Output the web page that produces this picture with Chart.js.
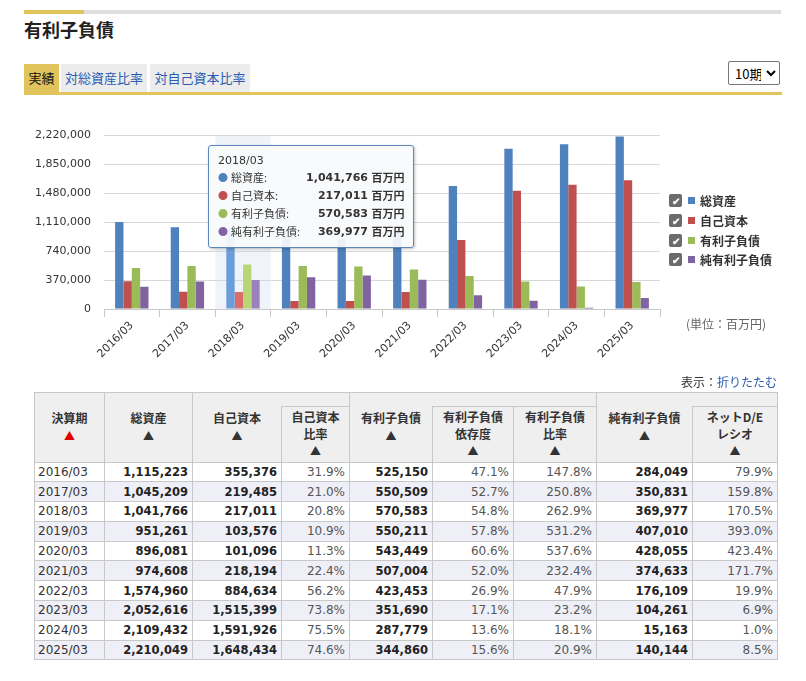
<!DOCTYPE html>
<html lang="ja">
<head>
<meta charset="utf-8">
<title>有利子負債</title>
<script src="https://cdn.jsdelivr.net/npm/chart.js@4.4.1/dist/chart.umd.min.js"></script>
<style>
    body { margin: 0; background: #fff; color: #333; font-family: "DejaVu Sans", "Noto Sans CJK JP", sans-serif; }
    #page { position: relative; width: 806px; height: 681px; overflow: hidden; }
    .topbar { position: absolute; left: 24px; top: 10px; width: 757px; height: 4px; background: #dedede; }
    .topbar span { position: absolute; left: 0; top: 0; width: 60px; height: 4px; background: #e2c45c; }
    h2 { position: absolute; left: 24px; top: 17px; margin: 0; font: bold 18px/24px "Noto Sans CJK JP", sans-serif; color: #222; }
    .tabs { position: absolute; left: 24px; top: 64px; height: 28px; }
    .tabs div { position: absolute; top: 0; height: 28px; line-height: 28px; font: 13px/28px "Noto Sans CJK JP", sans-serif; background: #ececec; color: #2a5cb3; text-align: center; }
    .tabs .on { background: #e2c45c; color: #111; }
    .tabline { position: absolute; left: 24px; top: 92px; width: 758px; height: 3px; background: #e2c45c; }
    select { position: absolute; left: 728px; top: 61px; width: 52px; height: 24px; font: 13px "Noto Sans CJK JP", sans-serif; border: 1px solid #767676; border-radius: 2px; background: #fff; padding: 0 2px; }
    #chartBox { position: absolute; left: 24px; top: 116px; width: 650px; height: 254px; }
    #legend { position: absolute; left: 669px; top: 191px; }
    #legend .item { height: 19.7px; display: flex; align-items: center; font: bold 12px "Noto Sans CJK JP", sans-serif; color: #333; }
    #legend .chk { width: 13px; height: 13px; background: #6b6b6b; border-radius: 2px; color: #fff; font-size: 10px; line-height: 13px; text-align: center; margin-right: 6px; }
    #legend .sq { width: 7px; height: 7px; margin-right: 5px; }
    .unit { position: absolute; left: 686px; top: 315px; font: 12px "Noto Sans CJK JP", sans-serif; color: #666; }
    #tip { position: absolute; display: none; background: rgba(249, 250, 252, 0.93); border: 1px solid #5b86bf; border-radius: 3px;
        box-shadow: 1px 1px 3px rgba(0, 0, 0, 0.25); padding: 6px 8px 6px 9px; font-size: 11px; color: #333; white-space: nowrap; }
    #tip .ttl { height: 17px; line-height: 17px; }
    #tip table { border-collapse: collapse; }
    #tip td { padding: 0; height: 17px; line-height: 17px; }
    #tip .lab { font-family: "Noto Sans CJK JP", sans-serif; padding-right: 6px; }
    #tip .val { font-weight: bold; text-align: right; }
    #tip .dot { font-size: 10px; margin-right: 3px; }
    .fold { position: absolute; left: 681px; top: 373px; font: 12px "Noto Sans CJK JP", sans-serif; color: #333; }
    .fold a { color: #2a5cb3; text-decoration: none; }
    table.data { position: absolute; left: 34px; top: 392px; width: 743px; border-collapse: collapse; table-layout: fixed; }
    table.data th, table.data td { border: 1px solid #c8c8c8; }
    table.data th { background: #efefef; font: bold 12px/16.5px "Noto Sans CJK JP", sans-serif; color: #333; text-align: center; padding: 2px 0 3px; }
    table.data th .up { font-size: 11px; }
    table.data th .red { color: #e00000; }
    table.data th.blank { border-bottom: none; height: 13px; padding: 0; }
    table.data th.nr { border-right: none; }
    table.data th.nl { border-left: none; }
    table.data td { height: 18.8px; padding: 0 4px; font-size: 12px; text-align: right; color: #555; }
    table.data td.y { text-align: left; color: #333; padding-left: 3px; }
    table.data td.b { font-weight: bold; color: #222; font-size: 11.5px; }
    table.data tr.alt td { background: #efeff7; }
</style>
</head>
<body>
<div id="page">
    <div class="topbar"><span></span></div>
    <h2>有利子負債</h2>
    <div class="tabs">
        <div class="on" style="left:0;width:35px;">実績</div>
        <div style="left:37px;width:86px;">対総資産比率</div>
        <div style="left:126px;width:100px;">対自己資本比率</div>
    </div>
    <div class="tabline"></div>
    <select><option>10期</option></select>

    <div id="chartBox"><canvas id="debtChart"></canvas></div>
    <div id="tip"></div>
    <div id="legend"></div>
    <div class="unit">(単位：百万円)</div>

    <div class="fold">表示：<a href="#">折りたたむ</a></div>
    <table class="data" id="dataTable"></table>
</div>

<script>
// 決算期
const periods = ['2016/03', '2017/03', '2018/03', '2019/03', '2020/03', '2021/03', '2022/03', '2023/03', '2024/03', '2025/03'];

// 百万円
const totalAssets = [1115223, 1045209, 1041766, 951261, 896081, 974608, 1574960, 2052616, 2109432, 2210049];
const equity = [355376, 219485, 217011, 103576, 101096, 218194, 884634, 1515399, 1591926, 1648434];
const interestDebt = [525150, 550509, 570583, 550211, 543449, 507004, 423453, 351690, 287779, 344860];
const netInterestDebt = [284049, 350831, 369977, 407010, 428055, 374633, 176109, 104261, 15163, 140144];

// %
const equityRatio = [31.9, 21.0, 20.8, 10.9, 11.3, 22.4, 56.2, 73.8, 75.5, 74.6];
const debtDependence = [47.1, 52.7, 54.8, 57.8, 60.6, 52.0, 26.9, 17.1, 13.6, 15.6];
const debtEquityRatio = [147.8, 250.8, 262.9, 531.2, 537.6, 232.4, 47.9, 23.2, 18.1, 20.9];
const netDERatio = [79.9, 159.8, 170.5, 393.0, 423.4, 171.7, 19.9, 6.9, 1.0, 8.5];

const yTicks = [0, 370000, 740000, 1110000, 1480000, 1850000, 2220000];

const seriesNames = ['総資産', '自己資本', '有利子負債', '純有利子負債'];
const seriesData = [totalAssets, equity, interestDebt, netInterestDebt];
const colors = ['#4F81BD', '#C0504D', '#9BBB59', '#8064A2'];

const activeIndex = 2; // tooltip shown on 2018/03

const fmt = v => v.toLocaleString('en-US');

function brighten(hex, amt) {
    const n = parseInt(hex.slice(1), 16);
    const ch = [n >> 16, (n >> 8) & 255, n & 255].map(c => Math.min(255, c + amt));
    return 'rgb(' + ch.join(',') + ')';
}

// legend
document.getElementById('legend').innerHTML = seriesNames.map((name, i) => `
    <div class="item"><span class="chk">&#10004;</span><span class="sq" style="background:${colors[i]}"></span>${name}</div>
`).join('');

// table
const pct = v => v.toFixed(1) + '%';
const up = '<br><span class="up">&#9650;</span>';
let html = `
<colgroup>
    <col style="width:70px"><col style="width:88px"><col style="width:89px"><col style="width:68px">
    <col style="width:83px"><col style="width:81px"><col style="width:83px"><col style="width:96px"><col style="width:85px">
</colgroup>
<tr>
    <th rowspan="2">決算期<br><span class="up red">&#9650;</span></th>
    <th rowspan="2">総資産${up}</th>
    <th rowspan="2" class="nr">自己資本${up}</th>
    <th class="blank nl"></th>
    <th rowspan="2" class="nr">有利子負債${up}</th>
    <th class="blank nl" colspan="2"></th>
    <th rowspan="2" class="nr">純有利子負債${up}</th>
    <th class="blank nl"></th>
</tr>
<tr>
    <th>自己資本<br>比率${up}</th>
    <th>有利子負債<br>依存度${up}</th>
    <th>有利子負債<br>比率${up}</th>
    <th>ネットD/E<br>レシオ${up}</th>
</tr>`;
html += periods.map((p, i) => `
<tr class="${i % 2 ? 'alt' : ''}">
    <td class="y">${p}</td>
    <td class="b">${fmt(totalAssets[i])}</td>
    <td class="b">${fmt(equity[i])}</td>
    <td>${pct(equityRatio[i])}</td>
    <td class="b">${fmt(interestDebt[i])}</td>
    <td>${pct(debtDependence[i])}</td>
    <td>${pct(debtEquityRatio[i])}</td>
    <td class="b">${fmt(netInterestDebt[i])}</td>
    <td>${pct(netDERatio[i])}</td>
</tr>`).join('');
document.getElementById('dataTable').innerHTML = html;

// hover band behind active category
const bandPlugin = {
    id: 'band',
    beforeDatasetsDraw(chart) {
        const act = chart.getActiveElements();
        if (!act.length) return;
        const x = chart.scales.x;
        const w = x.width / periods.length;
        const cx = x.getPixelForValue(act[0].index);
        const { top, bottom } = chart.chartArea;
        const ctx = chart.ctx;
        ctx.save();
        ctx.fillStyle = 'rgba(204, 214, 235, 0.3)';
        ctx.fillRect(cx - w / 2, top, w, bottom - top);
        ctx.restore();
    }
};

function externalTip(context) {
    const { chart, tooltip } = context;
    const el = document.getElementById('tip');
    if (tooltip.opacity === 0 || !tooltip.dataPoints) { el.style.display = 'none'; return; }
    const idx = tooltip.dataPoints[0].dataIndex;
    el.innerHTML = `<div class="ttl">${periods[idx]}</div><table>` +
        tooltip.dataPoints.map(dp => `
            <tr><td class="lab"><span class="dot" style="color:${colors[dp.datasetIndex]}">&#9679;</span>${seriesNames[dp.datasetIndex]}:</td>
            <td class="val">${fmt(dp.raw)}</td><td>&nbsp;<span style="font-family:'Noto Sans CJK JP';font-weight:bold">百万円</span></td></tr>`).join('') +
        '</table>';
    const box = chart.canvas.parentNode;
    el.style.display = 'block';
    el.style.left = (box.offsetLeft + chart.scales.x.getPixelForValue(idx) - 35) + 'px';
    el.style.top = (box.offsetTop + chart.chartArea.top + 9) + 'px';
}

const chart = new Chart(document.getElementById('debtChart'), {
    type: 'bar',
    data: {
        labels: periods,
        datasets: seriesData.map((d, i) => ({
            label: seriesNames[i],
            data: d,
            backgroundColor: colors[i],
            hoverBackgroundColor: brighten(colors[i], 28),
            borderWidth: 0,
            categoryPercentage: 0.6,
            barPercentage: 1.0
        }))
    },
    options: {
        responsive: true,
        maintainAspectRatio: false,
        animation: false,
        events: [],
        interaction: { mode: 'index', intersect: false },
        layout: { padding: { top: 10, right: 14, left: 0, bottom: 0 } },
        scales: {
            x: {
                grid: { drawOnChartArea: false, offset: true, tickLength: 8, color: '#c8c8c8' },
                border: { color: '#c8c8c8' },
                ticks: { color: '#333', font: { family: 'DejaVu Sans', size: 11 }, minRotation: 45, maxRotation: 45, padding: 2 },
                afterFit(scale) { scale.height = 61; }
            },
            y: {
                min: 0,
                max: 2220000,
                afterBuildTicks(scale) { scale.ticks = yTicks.map(v => ({ value: v })); },
                grid: { color: '#d8d8d8', drawTicks: false },
                border: { display: false },
                ticks: { color: '#333', font: { family: 'DejaVu Sans', size: 11 }, padding: 13, callback: v => fmt(v) },
                afterFit(scale) { scale.width = 80; }
            }
        },
        plugins: {
            legend: { display: false },
            tooltip: { enabled: false, external: externalTip }
        }
    },
    plugins: [bandPlugin]
});

const act = seriesData.map((d, i) => ({ datasetIndex: i, index: activeIndex }));
chart.setActiveElements(act);
chart.tooltip.setActiveElements(act, { x: chart.scales.x.getPixelForValue(activeIndex), y: chart.chartArea.top });
chart.update();
</script>
</body>
</html>
